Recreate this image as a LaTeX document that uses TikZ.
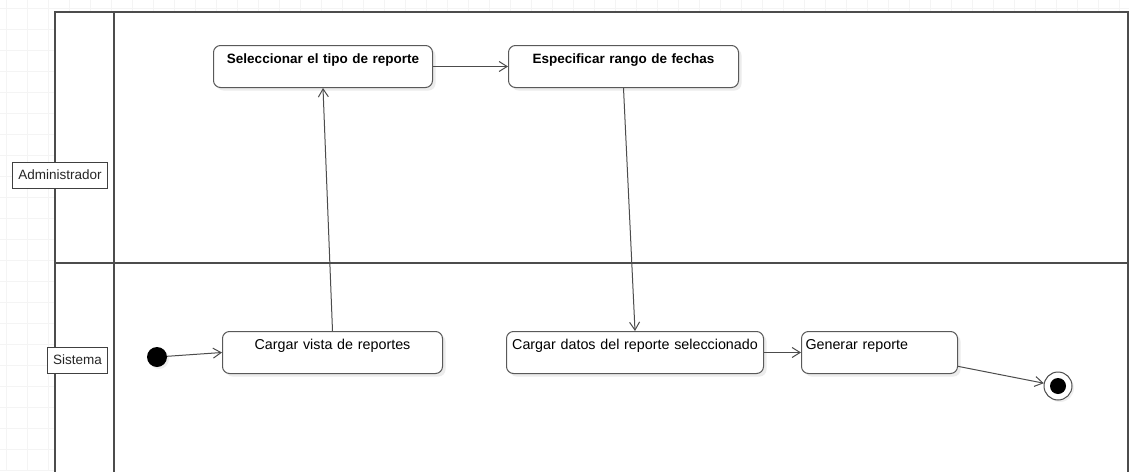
\documentclass[tikz,border=0pt]{standalone}
\usepackage{fontspec}
\setmainfont{Liberation Sans}
\usetikzlibrary{arrows.meta,shadows}
\begin{document}
\begin{tikzpicture}[x=1pt,y=-1pt,
  gridline/.style={draw=gray!9,line width=.8pt},
  lane/.style={draw=black!70,line width=1.3pt},
  lanelab/.style={draw=black!75,fill=white,line width=1pt,minimum height=26pt,inner xsep=6pt,
    font=\fontsize{13.5}{15}\selectfont,text=black!85},
  actbox/.style={draw=black!65,line width=1pt,fill=white,rounded corners=7pt,anchor=north west,
    inner xsep=4pt,inner ysep=5pt,text height=13pt,text depth=19pt,align=center,
    font=\fontsize{14.3}{16}\selectfont,text=black,
    drop shadow={shadow xshift=3pt,shadow yshift=-3pt,opacity=.15}},
  flow/.style={draw=black!70,line width=1pt,-{Straight Barb[length=8pt,width=10pt]}}]
\useasboundingbox (0,0) rectangle (1129,471);
\clip (0,0) rectangle (1129,471);
% background grid
\foreach \gx in {6,27,...,1129} \draw[gridline] (\gx,0) -- (\gx,471);
\foreach \gy in {8,29,...,471} \draw[gridline] (0,\gy) -- (1129,\gy);
% swimlanes
\fill[white] (55,12) rectangle (1128,480);
\draw[lane] (55,480) -- (55,12) -- (1128,12) -- (1128,480);
\draw[lane] (114,12) -- (114,480);
\draw[lane] (55,263) -- (1128,263);
\node[lanelab] (adm) at (60,175) {Administrador};
\node[lanelab] (sis) at (77.5,360) {Sistema};
% actions
\node[actbox,text width=211pt,font=\fontsize{13.5}{16}\selectfont\bfseries] (sel) at (213,45) {Seleccionar el tipo de reporte};
\node[actbox,text width=222pt,font=\fontsize{13.5}{16}\selectfont\bfseries] (esp) at (508,45) {Especificar rango de fechas};
\node[actbox,text width=212pt] (cvis) at (222,331) {Cargar vista de reportes};
\node[actbox,text width=249pt] (cdat) at (506,331) {Cargar datos del reporte seleccionado};
\node[actbox,text width=148pt,align=left] (gen) at (801,331) {Generar reporte};
\node[circle,fill=black,minimum size=20pt,inner sep=0pt,
  drop shadow={shadow xshift=2pt,shadow yshift=-2pt,opacity=.12}] (ini) at (157,357) {};
\node[circle,draw=black!70,line width=1pt,fill=white,minimum size=28pt,inner sep=0pt,
  drop shadow={shadow xshift=2pt,shadow yshift=-2pt,opacity=.12}] (fin) at (1058,386) {};
\fill[black] (fin) circle (8);
% transitions
\draw[flow] (ini) -- (cvis.west);
\draw[flow] (cvis.north) -- (sel.south);
\draw[flow] (sel.east) -- (esp.west);
\draw[flow] (esp.south) -- (cdat.north);
\draw[flow] (cdat.east) -- (gen.west);
\draw[flow] (gen.-10) -- (fin);
\end{tikzpicture}
\end{document}
